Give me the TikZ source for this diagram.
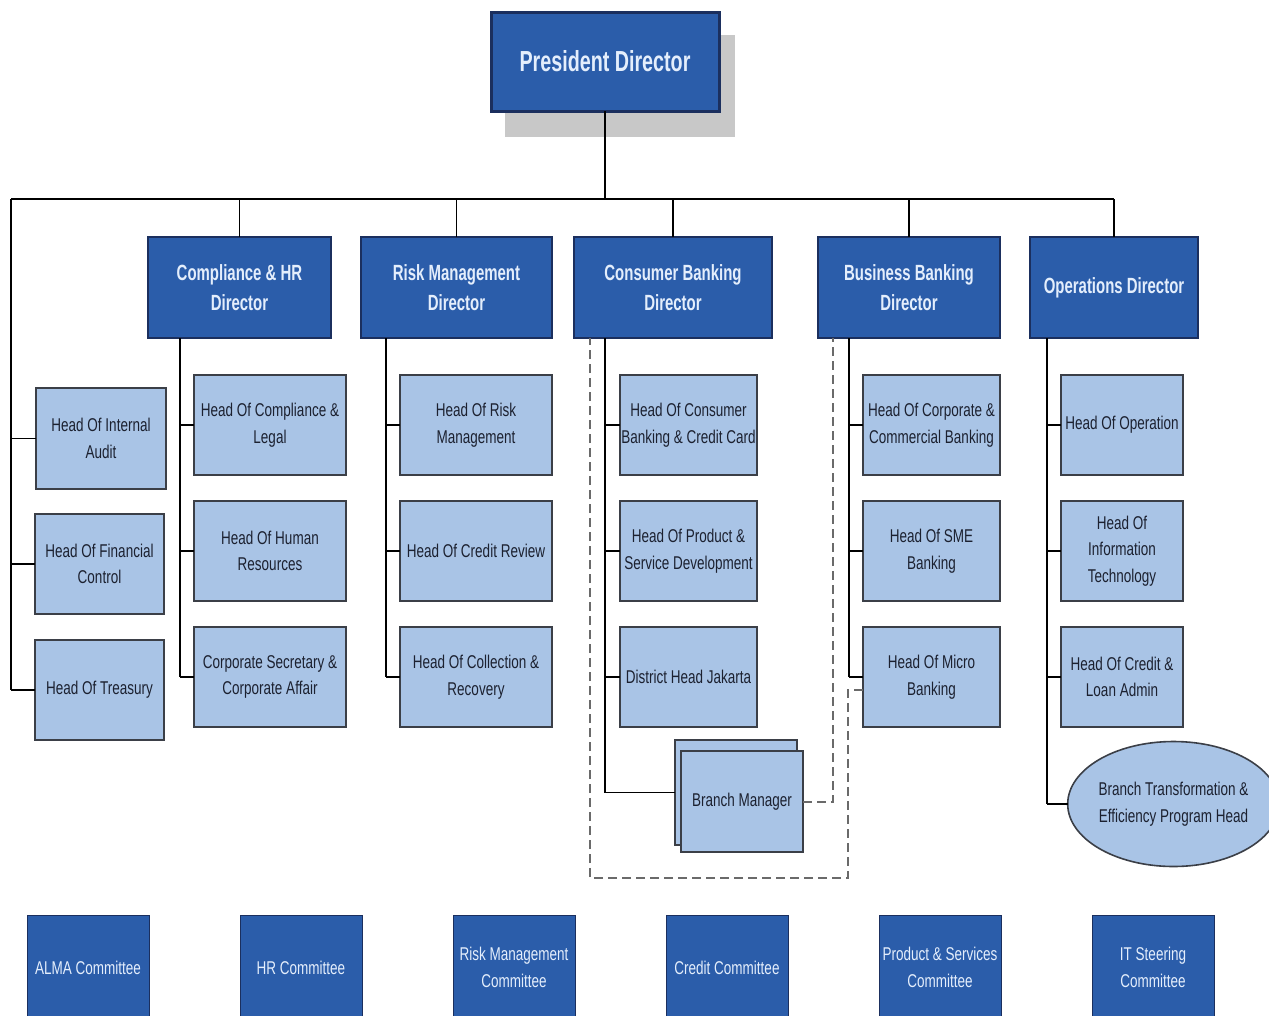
\documentclass[tikz,border=0pt]{standalone}
\usepackage{fontspec}
\setmainfont{Liberation Sans}[FakeStretch=0.73]
\newfontfamily\hdfont{Liberation Sans}[FakeStretch=0.68]
\usetikzlibrary{shapes.geometric}
\definecolor{deepblue}{HTML}{2B5DAA}
\definecolor{navyline}{HTML}{1B2F5E}
\definecolor{paleblue}{HTML}{A9C4E6}
\definecolor{kidline}{HTML}{3B3F47}
\definecolor{kidtext}{HTML}{1C2130}
\definecolor{lighttext}{HTML}{E4EEFC}
\definecolor{dashgray}{HTML}{6A6A6A}
\definecolor{shadowgray}{HTML}{C8C8C8}
\tikzset{
  boxbase/.style={rectangle, inner sep=0pt, outer sep=0pt, align=center},
  topbox/.style={boxbase, fill=deepblue, draw=navyline, line width=3pt, text=lighttext,
    font=\hdfont\bfseries\fontsize{29}{34}\selectfont},
  dirbox/.style={boxbase, fill=deepblue, draw=navyline, line width=1.6pt, text=lighttext,
    font=\hdfont\bfseries\fontsize{22}{30}\selectfont},
  kidbox/.style={boxbase, fill=paleblue, draw=kidline, line width=1.6pt, text=kidtext,
    font=\fontsize{18.5}{26.5}\selectfont},
  cmtbox/.style={boxbase, fill=deepblue, draw=navyline, line width=1pt, text=lighttext,
    font=\fontsize{18.5}{27}\selectfont},
  link/.style={draw=black, line width=1.8pt},
  buslink/.style={draw=black, line width=2.4pt},
  dotted link/.style={draw=dashgray, line width=2pt, dash pattern=on 9pt off 5pt},
}
\begin{document}
\begin{tikzpicture}[x=1pt, y=-1pt]
\useasboundingbox (0,0) rectangle (1269,1015);

% shadow behind the top box
\fill[shadowgray] (505,35) rectangle (735,137);

% top level
\node[topbox, minimum width=228, minimum height=99] (pd) at (605,61.5) {President Director};

% directors
\node[dirbox, minimum width=183, minimum height=101] (chr) at (239.5,287.5) {Compliance \& HR\\Director};
\node[dirbox, minimum width=191, minimum height=101] (rmd) at (456.5,287.5) {Risk Management\\Director};
\node[dirbox, minimum width=198, minimum height=101] (cbd) at (673,287.5) {Consumer Banking\\Director};
\node[dirbox, minimum width=182, minimum height=101] (bbd) at (909,287.5) {Business Banking\\Director};
\node[dirbox, minimum width=168, minimum height=101] (opd) at (1114,287.5) {Operations Director};

% units reporting to the president
\node[kidbox, minimum width=130, minimum height=101] (ia) at (101,438.5) {Head Of Internal\\Audit};
\node[kidbox, minimum width=129, minimum height=100] (fc) at (99.5,564) {Head Of Financial\\Control};
\node[kidbox, minimum width=129, minimum height=100] (tr) at (99.5,690) {Head Of Treasury};

% compliance & HR
\node[kidbox, minimum width=152, minimum height=100] (cl) at (270,425) {Head Of Compliance \&\\Legal};
\node[kidbox, minimum width=152, minimum height=100] (hr) at (270,551) {Head Of Human\\Resources};
\node[kidbox, minimum width=152, minimum height=100] (cs) at (270,677) {Corporate Secretary \&\\Corporate Affair};

% risk management
\node[kidbox, minimum width=152, minimum height=100] (rm) at (476,425) {Head Of Risk\\Management};
\node[kidbox, minimum width=152, minimum height=100] (cr) at (476,551) {Head Of Credit Review};
\node[kidbox, minimum width=152, minimum height=100] (co) at (476,677) {Head Of Collection \&\\Recovery};

% consumer banking
\node[kidbox, minimum width=137, minimum height=100] (cc) at (688.5,425) {Head Of Consumer\\Banking \& Credit Card};
\node[kidbox, minimum width=137, minimum height=100] (ps) at (688.5,551) {Head Of Product \&\\Service Development};
\node[kidbox, minimum width=137, minimum height=100] (dh) at (688.5,677) {District Head Jakarta};
\node[kidbox, minimum width=122, minimum height=105] (bmb) at (736,792.5) {};
\node[kidbox, minimum width=122, minimum height=101] (bm) at (742,801.5) {Branch Manager};

% business banking
\node[kidbox, minimum width=137, minimum height=100] (ccb) at (931.5,425) {Head Of Corporate \&\\Commercial Banking};
\node[kidbox, minimum width=137, minimum height=100] (sme) at (931.5,551) {Head Of SME\\Banking};
\node[kidbox, minimum width=137, minimum height=100] (mic) at (931.5,677) {Head Of Micro\\Banking};

% operations
\node[kidbox, minimum width=122, minimum height=100] (op) at (1122,425) {Head Of Operation};
\node[kidbox, minimum width=122, minimum height=100] (it) at (1122,551) {Head Of\\Information\\Technology};
\node[kidbox, minimum width=122, minimum height=100] (la) at (1122,677) {Head Of Credit \&\\Loan Admin};
\node[kidbox, ellipse, minimum width=193, minimum height=125] (bt) at (1173.5,804) {Branch Transformation \&\\Efficiency Program Head};

% committees
\node[cmtbox, minimum width=122, minimum height=105] (k1) at (88,967.5) {ALMA Committee};
\node[cmtbox, minimum width=122, minimum height=105] (k2) at (301,967.5) {HR Committee};
\node[cmtbox, minimum width=122, minimum height=105] (k3) at (514,967.5) {Risk Management\\Committee};
\node[cmtbox, minimum width=122, minimum height=105] (k4) at (727,967.5) {Credit Committee};
\node[cmtbox, minimum width=122, minimum height=105] (k5) at (940,967.5) {Product \& Services\\Committee};
\node[cmtbox, minimum width=122, minimum height=105] (k6) at (1153,967.5) {IT Steering\\Committee};

% bus and column guides
\coordinate (busL) at (11,199);
\coordinate (busR) at (1114,199);
\coordinate (colC) at (180,0);
\coordinate (colR) at (386,0);
\coordinate (colB) at (605,0);
\coordinate (colS) at (849,0);
\coordinate (colO) at (1047,0);

% president to directors
\draw[buslink] (pd.south) -- (pd.south |- busL);
\draw[buslink] (busL) -- (busR);
\foreach \d in {chr,rmd,cbd,bbd,opd}
  \draw[link] (\d.north |- busL) -- (\d.north);

% president's own units
\draw[buslink] (busL) -- (busL |- tr.west);
\foreach \k in {ia,fc,tr}
  \draw[link] (\k.west -| busL) -- (\k.west);

% director columns
\draw[link] (chr.south -| colC) -- (cs.west -| colC);
\foreach \k in {cl,hr,cs} \draw[link] (\k.west -| colC) -- (\k.west);

\draw[link] (rmd.south -| colR) -- (co.west -| colR);
\foreach \k in {rm,cr,co} \draw[link] (\k.west -| colR) -- (\k.west);

\draw[link] (cbd.south -| colB) -- (bmb.west -| colB);
\foreach \k in {cc,ps,dh,bmb} \draw[link] (\k.west -| colB) -- (\k.west);

\draw[link] (bbd.south -| colS) -- (mic.west -| colS);
\foreach \k in {ccb,sme,mic} \draw[link] (\k.west -| colS) -- (\k.west);

\draw[link] (opd.south -| colO) -- (bt.west -| colO);
\foreach \k in {op,it,la,bt} \draw[link] (\k.west -| colO) -- (\k.west);

% dotted reporting lines
\coordinate (dashR) at (833,0);
\coordinate (dashX) at (848,0);
\coordinate (dashBot) at (0,878);
\coordinate (dashL) at (590,0);
\draw[dotted link] (bm.east) -| (dashR |- bbd.south);
\draw[dotted link] ([yshift=-13pt]mic.west) -| (dashX |- dashBot) -| (dashL |- cbd.south);

\end{tikzpicture}
\end{document}
